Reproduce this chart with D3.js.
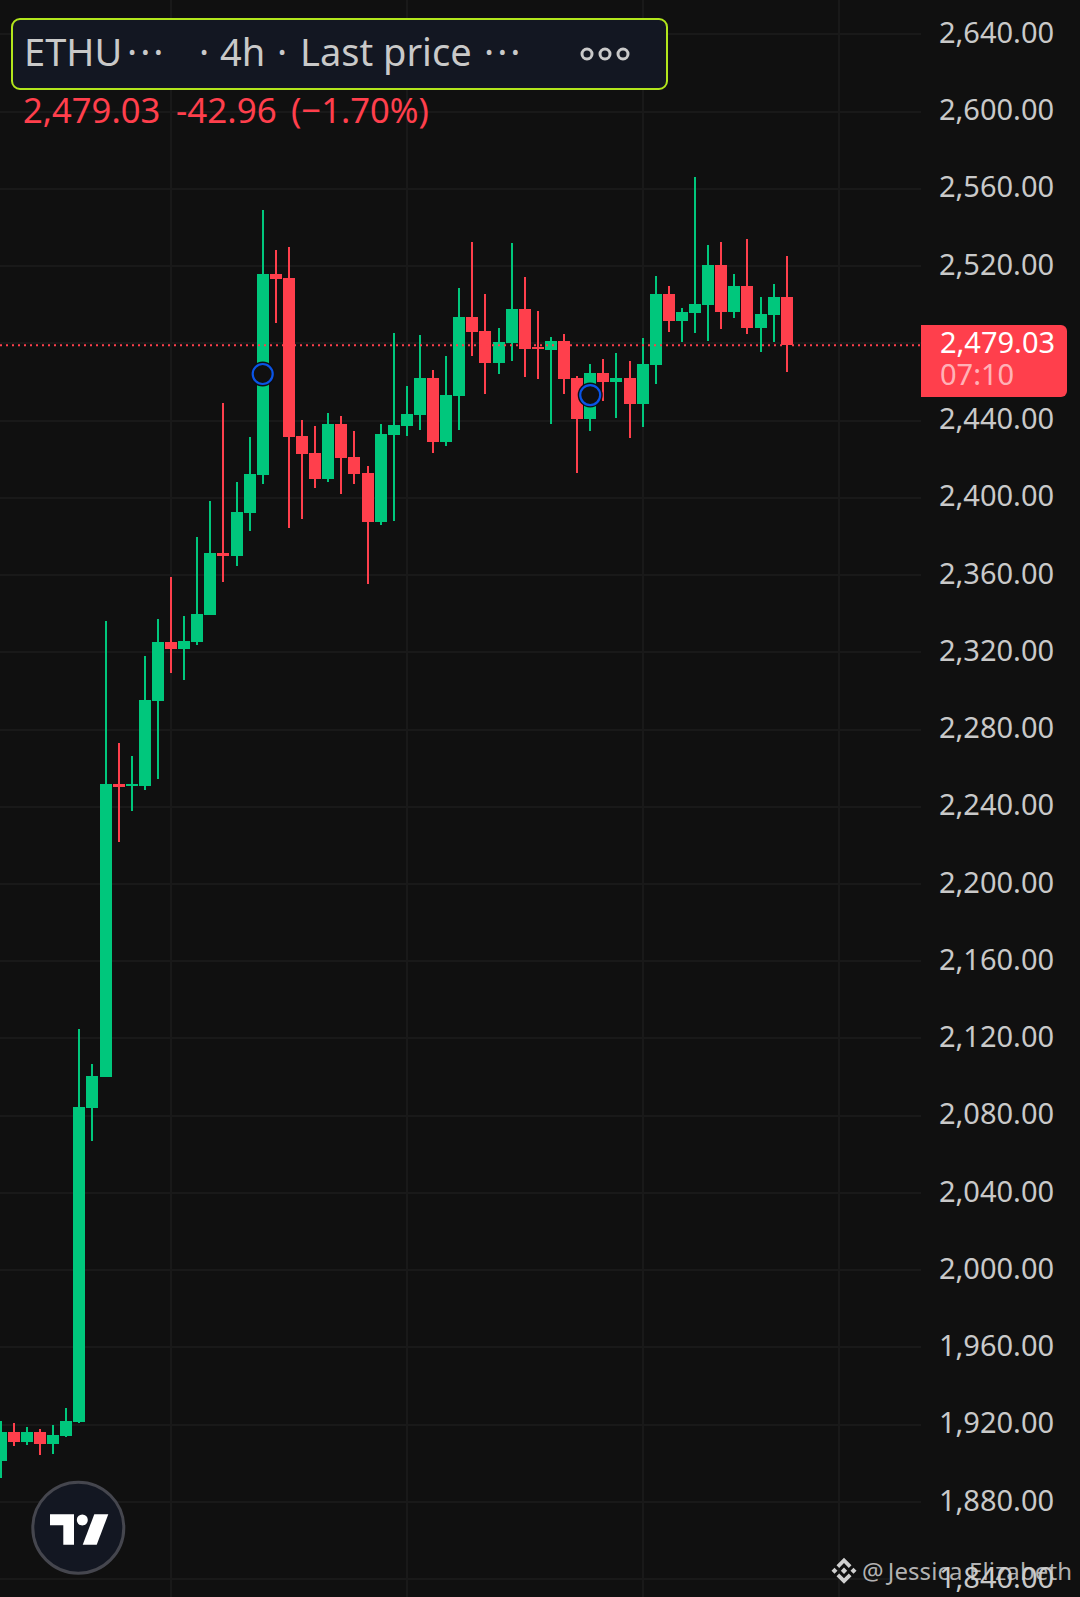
<!DOCTYPE html>
<html>
<head>
<meta charset="utf-8">
<script src="https://cdn.jsdelivr.net/npm/d3@7/dist/d3.min.js"></script>
<style>
html,body{margin:0;padding:0;background:#101010;overflow:hidden}
svg{display:block}
text{font-family:"Noto Sans",sans-serif}
</style>
</head>
<body>
<svg id="chart" width="1080" height="1597"></svg>
<script>
const opens=[1901.1,1916.1,1910.9,1916.1,1909.9,1914.1,1921.3,2083.9,2100,2251.7,2250.7,2250.7,2294.7,2325.3,2321.6,2325.3,2339.3,2371.4,2369.8,2392.1,2411.8,2515.9,2513.8,2432,2423.2,2409.7,2438.2,2421.1,2412.8,2387.4,2432.5,2437.1,2442.8,2462,2428.8,2452.7,2493.6,2486.3,2469.8,2480.1,2497.7,2478.1,2476.5,2481.2,2462,2440.8,2464.6,2459.9,2462,2448.5,2468.7,2505.5,2491.5,2495.7,2499.8,2520.5,2496.2,2509.6,2487.9,2494.6,2503.9];
const highs=[1921.8,1920.8,1918.7,1917.7,1919.7,1928.6,2124.8,2106.7,2336.1,2273,2266.2,2318,2337.2,2358.9,2338.7,2379.6,2398.3,2449,2408.1,2431.4,2549,2528.3,2529.8,2440.2,2437.1,2443.9,2442.3,2434.5,2416.4,2438.2,2485.3,2457.9,2484.3,2466.1,2473.4,2508.6,2532.4,2505.5,2487.9,2531.9,2514.3,2496.7,2483.2,2484.8,2463,2469.2,2471.8,2474.9,2470.8,2482.7,2514.8,2509.6,2498.2,2566.1,2530.9,2532.4,2515.9,2534,2503.9,2510.7,2525.2];
const lows=[1892.3,1908.9,1909.4,1904.2,1904.7,1913.5,1920.8,2066.8,2100,2221.7,2237.7,2248.6,2254.3,2309.2,2305.6,2323.7,2339.3,2356.3,2364.6,2382.8,2407.1,2490.5,2384.3,2389,2405,2408.1,2401.9,2407.1,2355.3,2385.9,2387.9,2432,2435.1,2423.2,2426.8,2435.1,2473.4,2453.7,2464.1,2470.8,2462.5,2461.5,2438.2,2453.7,2412.8,2434.5,2450.1,2441.3,2430.9,2436.6,2458.9,2485.8,2480.6,2485.3,2481.2,2487.4,2493.1,2484.8,2475.5,2480.6,2465.1];
const closes=[1916.1,1910.9,1916.1,1909.9,1914.6,1921.8,2084.4,2100.5,2251.7,2250.2,2251.7,2295.2,2325.3,2321.6,2325.8,2339.8,2371.4,2369.8,2392.6,2412.3,2515.9,2513.3,2431.4,2422.6,2409.7,2438.2,2420.6,2412.3,2387.4,2433,2437.7,2443.4,2462,2428.8,2453.2,2493.6,2485.8,2469.8,2480.6,2497.7,2477,2477,2481.2,2461.5,2440.8,2464.6,2459.9,2462,2448.5,2469.2,2505.5,2491.5,2496.2,2500.3,2520.5,2496.2,2509.6,2487.9,2495.1,2503.9,2479.03];
const priceTicks=[2640,2600,2560,2520,2480,2440,2400,2360,2320,2280,2240,2200,2160,2120,2080,2040,2000,1960,1920,1880,1840];
const verticalGridIndex=[13,31,49,64];
const markerIndex=[20,45];
const markerPrice=[2464.1,2453.2];
const lastPrice=2479.03;

const BG="#101010",GRID="#191919",UP="#00c77c",DOWN="#ff3f4c",LABEL="#c9c9c9";
const svg=d3.select("#chart");
const x=d3.scaleLinear().domain([0,60]).range([0.7,786.7]);
const y=d3.scaleLinear().domain([1840,2640]).range([1579.2,34.3]);
const PLOT_R=921;

svg.append("rect").attr("width",1080).attr("height",1597).attr("fill",BG);

const grid=svg.append("g").attr("stroke",GRID).attr("stroke-width",2).attr("shape-rendering","crispEdges");
grid.selectAll("line.h").data(priceTicks).join("line").attr("class","h")
  .attr("x1",0).attr("x2",PLOT_R).attr("y1",d=>y(d)).attr("y2",d=>y(d));
grid.selectAll("line.v").data(verticalGridIndex).join("line").attr("class","v")
  .attr("x1",d=>x(d)).attr("x2",d=>x(d)).attr("y1",0).attr("y2",1597);

const idx=d3.range(opens.length);
const color=i=>closes[i]>=opens[i]?UP:DOWN;
const candles=svg.append("g").attr("shape-rendering","crispEdges");
candles.selectAll("rect.w").data(idx).join("rect").attr("class","w")
  .attr("x",i=>x(i)-1).attr("width",2)
  .attr("y",i=>y(highs[i])).attr("height",i=>y(lows[i])-y(highs[i]))
  .attr("fill",color);
candles.selectAll("rect.b").data(idx).join("rect").attr("class","b")
  .attr("x",i=>x(i)-6).attr("width",12)
  .attr("y",i=>y(Math.max(opens[i],closes[i])))
  .attr("height",i=>Math.max(2,Math.abs(y(opens[i])-y(closes[i]))))
  .attr("fill",color);

svg.append("line").attr("x1",0).attr("x2",PLOT_R).attr("y1",y(lastPrice)).attr("y2",y(lastPrice))
  .attr("stroke",DOWN).attr("stroke-width",2).attr("stroke-dasharray","2 4");

const mk=svg.append("g").selectAll("g").data(markerIndex).join("g")
  .attr("transform",(d,i)=>`translate(${x(d)},${y(markerPrice[i])})`);
mk.append("circle").attr("r",12.5).attr("fill","#0d0e12");
mk.append("circle").attr("r",10).attr("fill",BG).attr("stroke","#0a54e6").attr("stroke-width",2.2);

const axis=d3.axisRight(y).tickValues(priceTicks).tickSize(0).tickPadding(0).tickFormat(d3.format(",.2f"));
const ax=svg.append("g").attr("transform","translate(939,0)").call(axis);
ax.select(".domain").remove();
ax.selectAll("text").attr("fill",LABEL).attr("font-size",29).attr("font-family",'"Noto Sans",sans-serif').attr("dy","0.28em");

// last price tag
svg.append("path").attr("fill",DOWN)
  .attr("d","M921 325H1061a6 6 0 0 1 6 6V391a6 6 0 0 1 -6 6H921Z");
svg.append("text").attr("x",940).attr("y",353).attr("font-size",29).attr("fill","#fff").text(d3.format(",.2f")(lastPrice));
svg.append("text").attr("x",940).attr("y",385).attr("font-size",29).attr("fill","#fff").attr("fill-opacity",0.62).text("07:10");

// legend panel
svg.append("rect").attr("x",12).attr("y",19).attr("width",655).attr("height",70).attr("rx",8)
  .attr("fill","#131722").attr("stroke","#b2e61c").attr("stroke-width",2);
const T=(s,xx,yy,fs,fill)=>svg.append("text").attr("x",xx).attr("y",yy).attr("font-size",fs).attr("fill",fill).text(s);
T("ETHU",24,66,38,LABEL);
T("···",127,66,38,LABEL).attr("letter-spacing",3);
T("·",199,66,38,LABEL);
T("4h",220,66,38,LABEL);
T("·",277,66,38,LABEL);
T("Last price",300,66,38,LABEL);
T("···",484,66,38,LABEL).attr("letter-spacing",3);
svg.append("g").selectAll("circle").data([587,605,623]).join("circle")
  .attr("cx",d=>d).attr("cy",54).attr("r",5).attr("fill","none").attr("stroke",LABEL).attr("stroke-width",3);

T("2,479.03",23,123,34.6,DOWN);
T("-42.96",176,123,35,DOWN);
T("(−1.70%)",291,123,34.6,DOWN);

// logo
const lg=svg.append("g");
lg.append("circle").attr("cx",78.3).attr("cy",1527.7).attr("r",45.5).attr("fill","#131722").attr("stroke","#45464e").attr("stroke-width",3);
lg.append("path").attr("fill","#fff").attr("d","M50 1514.3H74V1544.7H63.3V1525.3H50Z");
lg.append("circle").attr("cx",82.3).attr("cy",1520).attr("r",5.5).attr("fill","#fff");
lg.append("path").attr("fill","#fff").attr("d","M94.3 1514.3H108.3L96.7 1544.7H82.7Z");

// watermark
const wm=svg.append("g").attr("transform","translate(844,1570.7)").attr("fill","#d0d0d0");
wm.append("path").attr("d","M0 -13L7.5 -5.5L4.8 -2.8L0 -7.6L-4.8 -2.8L-7.5 -5.5Z");
wm.append("path").attr("d","M0 13L7.5 5.5L4.8 2.8L0 7.6L-4.8 2.8L-7.5 5.5Z");
wm.append("path").attr("d","M0 -3.2L3.2 0L0 3.2L-3.2 0Z");
wm.append("path").attr("d","M-9.5 -3L-6.5 0L-9.5 3L-12.5 0Z");
wm.append("path").attr("d","M9.5 -3L12.5 0L9.5 3L6.5 0Z");
svg.append("text").attr("x",862).attr("y",1580).attr("font-size",24).attr("fill","#d0d0d0").attr("fill-opacity",0.85)
  .attr("textLength",210).attr("lengthAdjust","spacing").text("@\u2009Jessica Elizabeth");
</script>
</body>
</html>
